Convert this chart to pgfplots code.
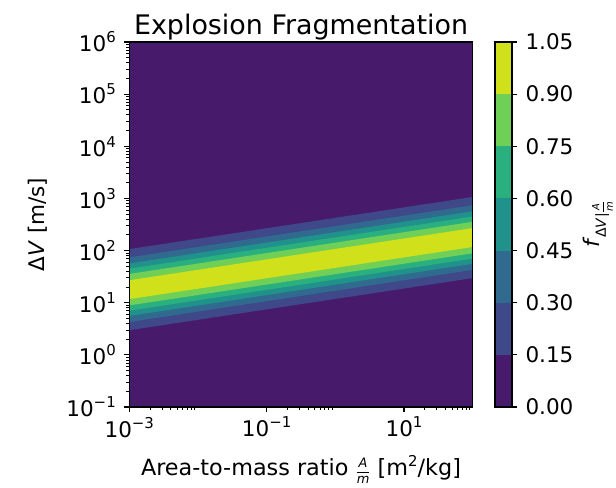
\documentclass[border=0pt]{standalone}
\usepackage{fontspec}
\setmainfont{DejaVu Sans}
\usepackage{amsmath}
\usepackage{pgfplots}
\pgfplotsset{compat=1.18}
\definecolor{c0}{HTML}{481A6C}
\definecolor{c1}{HTML}{3F4889}
\definecolor{c2}{HTML}{306A8E}
\definecolor{c3}{HTML}{21918C}
\definecolor{c4}{HTML}{2AB07F}
\definecolor{c5}{HTML}{6FCF57}
\definecolor{c6}{HTML}{D0E11C}
\newcommand\sups[1]{\raisebox{0.42em}{\fontsize{15}{15}\selectfont #1}}
\newcommand\tfont{\fontsize{21.6}{24}\selectfont}
\newcommand\fr[3]{{\fontsize{#3}{#3}\selectfont$\genfrac{}{}{0.5pt}{0}{\textit{#1}}{\textit{#2}}$}}
\begin{document}
\begin{tikzpicture}
\useasboundingbox (0,0) rectangle (616bp,488bp);
\begin{axis}[
  at={(129.3bp,81bp)}, anchor=south west, scale only axis,
  width=343.4bp, height=365bp,
  xmode=log, ymode=log, xmin=1e-3, xmax=1e2, ymin=1e-1, ymax=1e6,
  axis on top, axis background/.style={fill=c0},
  tick pos=left, tick align=outside,
  major tick length=5bp, minor tick length=3bp,
  xtick={1e-3,1e-1,1e1}, xticklabels={10\sups{−3},10\sups{−1},10\sups{1}},
  minor xtick={2e-3,3e-3,4e-3,5e-3,6e-3,7e-3,8e-3,9e-3,0.2,0.3,0.4,0.5,0.6,0.7,0.8,0.9,20,30,40,50,60,70,80,90},
  ytick={1e-1,1,10,100,1e3,1e4,1e5,1e6},
  yticklabels={10\sups{−1},10\sups{0},10\sups{1},10\sups{2},10\sups{3},10\sups{4},10\sups{5},10\sups{6}},
  minor ytick={0.2,0.3,0.4,0.5,0.6,0.7,0.8,0.9,2,3,4,5,6,7,8,9,20,30,40,50,60,70,80,90,200,300,400,500,600,700,800,900,2000,3000,4000,5000,6000,7000,8000,9000,20000,30000,40000,50000,60000,70000,80000,90000,200000,300000,400000,500000,600000,700000,800000,900000},
  ticklabel style={font=\tfont},
  yticklabel style={xshift=-5bp},
  xticklabel style={yshift=-1.5bp},
  axis line style={line width=1.1bp},
  every major tick/.append style={line width=1.1bp, black},
  every minor tick/.append style={line width=0.8bp, black},
]
\addplot[fill=c1, draw=none] coordinates {(1e-3,2.965) (1e2,29.65) (1e2,1067) (1e-3,106.7)};
\addplot[fill=c2, draw=none] coordinates {(1e-3,4.266) (1e2,42.66) (1e2,741.3) (1e-3,74.13)};
\addplot[fill=c3, draw=none] coordinates {(1e-3,5.572) (1e2,55.72) (1e2,567.5) (1e-3,56.75)};
\addplot[fill=c4, draw=none] coordinates {(1e-3,7.031) (1e2,70.31) (1e2,449.8) (1e-3,44.98)};
\addplot[fill=c5, draw=none] coordinates {(1e-3,8.872) (1e2,88.72) (1e2,356.5) (1e-3,35.65)};
\addplot[fill=c6, draw=none] coordinates {(1e-3,11.72) (1e2,117.2) (1e2,269.8) (1e-3,26.98)};
\end{axis}
\begin{axis}[
  at={(495bp,81bp)}, anchor=south west, scale only axis,
  width=17bp, height=365bp,
  xmin=0, xmax=1, ymin=0, ymax=1.05,
  xtick=\empty,
  ytick={0,0.15,0.3,0.45,0.6,0.75,0.9,1.05},
  yticklabels={0.00,0.15,0.30,0.45,0.60,0.75,0.90,1.05},
  ytick pos=right, yticklabel pos=right, tick align=outside,
  major tick length=5bp,
  axis on top,
  ticklabel style={font=\tfont},
  yticklabel style={xshift=5bp},
  axis line style={line width=1.1bp},
  every major tick/.append style={line width=1.1bp, black},
]
\addplot[fill=c0, draw=none] coordinates {(0,0) (1,0) (1,0.15) (0,0.15)};
\addplot[fill=c1, draw=none] coordinates {(0,0.15) (1,0.15) (1,0.30) (0,0.30)};
\addplot[fill=c2, draw=none] coordinates {(0,0.30) (1,0.30) (1,0.45) (0,0.45)};
\addplot[fill=c3, draw=none] coordinates {(0,0.45) (1,0.45) (1,0.60) (0,0.60)};
\addplot[fill=c4, draw=none] coordinates {(0,0.60) (1,0.60) (1,0.75) (0,0.75)};
\addplot[fill=c5, draw=none] coordinates {(0,0.75) (1,0.75) (1,0.90) (0,0.90)};
\addplot[fill=c6, draw=none] coordinates {(0,0.90) (1,0.90) (1,1.05) (0,1.05)};
\end{axis}
\node[anchor=base, font=\fontsize{27}{30}\selectfont] at (301bp,453bp) {Explosion Fragmentation};
\node[anchor=base, font=\fontsize{22.4}{24}\selectfont] at (301bp,12.5bp) {Area-to-mass ratio \fr{A}{m}{13} [m\sups{2}/kg]};
\node[rotate=90, font=\tfont] at (38bp,263.5bp) {Δ\textit{V} [m/s]};
\node[rotate=90, font=\tfont] at (598bp,263.5bp) {\textit{f}\raisebox{-0.3em}{\fontsize{14}{14}\selectfont Δ\textit{V}|\fr{A}{m}{10}}};
\end{tikzpicture}
\end{document}
